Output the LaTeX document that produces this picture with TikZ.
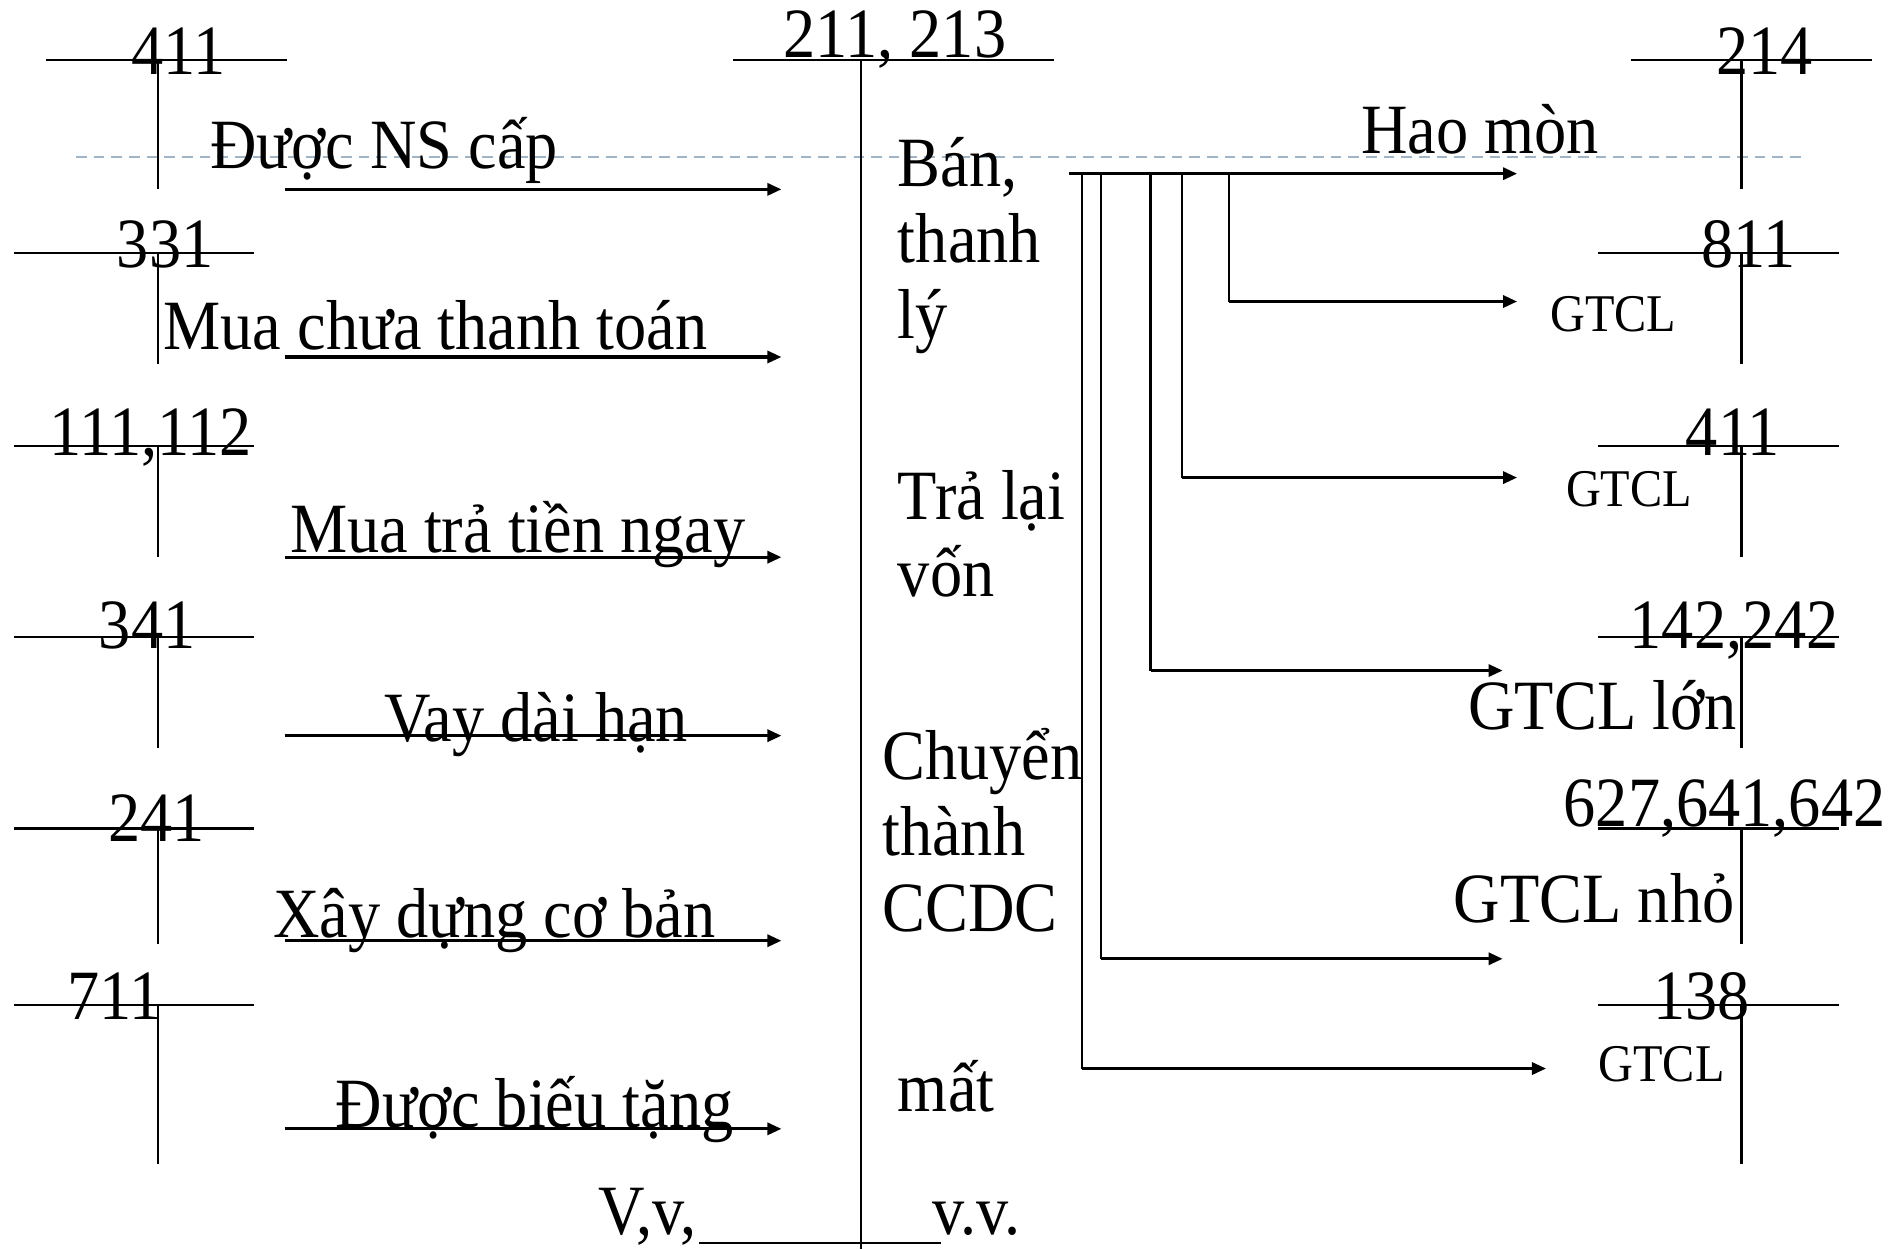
\documentclass[tikz,border=0pt]{standalone}
\usepackage{fontspec}
\setmainfont{Liberation Serif}[FakeStretch=0.91]
\usetikzlibrary{arrows.meta}
\definecolor{guidecol}{RGB}{160,180,200}

\begin{document}
\begin{tikzpicture}[x=0.012cm,y=-0.012cm,
  acct/.style={line width=0.6pt},
  lbl/.style={inner sep=0pt, font=\fontsize{20}{24}\selectfont},
  sml/.style={inner sep=0pt, font=\fontsize{15}{18}\selectfont},
  flow/.style={line width=0.9pt,-{Triangle[length=4pt,width=3.4pt]}},
  link/.style={line width=0.6pt},
  guide/.style={draw=guidecol, line width=0.6pt, dash pattern=on 3pt off 2pt}]

\useasboundingbox (0,0) rectangle (1568,1036);

% dashed guide line
\draw[guide] (63,130) -- (1498,130);

% ---------- left accounts ----------
\node[lbl, anchor=base] (l411) at (148,62) {411};
\draw[acct] (38,50) -- (238,50) (131,50) -- (131,157);
\node[lbl, anchor=base] (l331) at (137,222) {331};
\draw[acct] (12,210) -- (211,210) (131,210) -- (131,302);
\node[lbl, anchor=base] (l111) at (125,378) {111,112};
\draw[acct] (12,370) -- (211,370) (131,370) -- (131,462);
\node[lbl, anchor=base] (l341) at (122,538) {341};
\draw[acct] (12,528) -- (211,528) (131,528) -- (131,620);
\node[lbl, anchor=base] (l241) at (130,698) {241};
\draw[acct] (12,687) -- (211,687) (131,687) -- (131,783);
\node[lbl, anchor=base] (l711) at (95,845) {711};
\draw[acct] (12,833) -- (211,833) (131,833) -- (131,965);

% ---------- central account ----------
\node[lbl, anchor=base] (c211) at (742,48) {211, 213};
\draw[acct] (608,50) -- (874,50) (714,50) -- (714,1036);
\draw[acct] (580,1031) -- (780,1031);
\node[lbl, anchor=base] (vv1) at (537,1024) {V,v,};
\node[lbl, anchor=base] (vv2) at (810,1024) {v.v.};

% ---------- incoming flows ----------
\foreach \i/\y in {1/157,2/296,3/462,4/610,5/780,6/936}{
  \coordinate (in\i s) at (236,\y);
  \coordinate (in\i e) at (648,\y);
  \draw[flow] (in\i s) -- (in\i e);
}
\node[lbl, anchor=base west] (t1) at (174,140) {Được NS cấp};
\node[lbl, anchor=base west] (t2) at (135,290) {Mua chưa thanh toán};
\node[lbl, anchor=base west] (t3) at (240,458) {Mua trả tiền ngay};
\node[lbl, anchor=base west] (t4) at (318,615) {Vay dài hạn};
\node[lbl, anchor=base west] (t5) at (226,777) {Xây dựng cơ bản};
\node[lbl, anchor=base west] (t6) at (278,935) {Được biếu tặng};

% ---------- reasons for decrease ----------
\node[lbl, anchor=base west] (m1) at (744,155) {Bán,};
\node[lbl, anchor=base west] (m2) at (744,218) {thanh};
\node[lbl, anchor=base west] (m3) at (744,281) {lý};
\node[lbl, anchor=base west] (m4) at (744,431) {Trả lại};
\node[lbl, anchor=base west] (m5) at (744,495) {vốn};
\node[lbl, anchor=base west] (m6) at (731,646) {Chuyển};
\node[lbl, anchor=base west] (m7) at (731,709) {thành};
\node[lbl, anchor=base west] (m8) at (731,772) {CCDC};
\node[lbl, anchor=base west] (m9) at (744,922) {mất};

% ---------- outgoing flows ----------
\coordinate (hub) at (886,144);
\coordinate (o0) at (1258,144);
\draw[flow] (hub) -- (o0);
\foreach \i/\x/\y/\xe in {1/1019/250/1258,2/980/396/1258,3/954/556/1246,4/913/795/1246,5/897/886/1282}{
  \coordinate (b\i) at (\x,144);
  \coordinate (k\i) at (\x,\y);
  \coordinate (o\i) at (\xe,\y);
  \draw[link] (b\i) -- (k\i);
  \draw[flow] (k\i) -- (o\i);
}

% ---------- right accounts ----------
\node[lbl, anchor=base] (r214) at (1463,62) {214};
\draw[acct] (1352,50) -- (1552,50) (1444,50) -- (1444,157);
\node[lbl, anchor=base] (r811) at (1450,222) {811};
\draw[acct] (1325,210) -- (1525,210) (1444,210) -- (1444,302);
\node[lbl, anchor=base] (r411) at (1437,378) {411};
\draw[acct] (1325,370) -- (1525,370) (1444,370) -- (1444,462);
\node[lbl, anchor=base] (r142) at (1438,538) {142,242};
\draw[acct] (1325,528) -- (1525,528) (1444,528) -- (1444,620);
\node[lbl, anchor=base] (r627) at (1430,685) {627,641,642};
\draw[acct] (1325,687) -- (1525,687) (1444,687) -- (1444,783);
\node[lbl, anchor=base] (r138) at (1411,845) {138};
\draw[acct] (1325,833) -- (1525,833) (1444,833) -- (1444,965);

\node[lbl, anchor=base west] (h1) at (1128,127) {Hao mòn};
\node[sml, anchor=base west] (g1) at (1285,275) {GTCL};
\node[sml, anchor=base west] (g2) at (1298,420) {GTCL};
\node[lbl, anchor=base west] (g3) at (1217,605) {GTCL lớn};
\node[lbl, anchor=base west] (g4) at (1205,765) {GTCL nhỏ};
\node[sml, anchor=base west] (g5) at (1325,897) {GTCL};

\end{tikzpicture}
\end{document}
